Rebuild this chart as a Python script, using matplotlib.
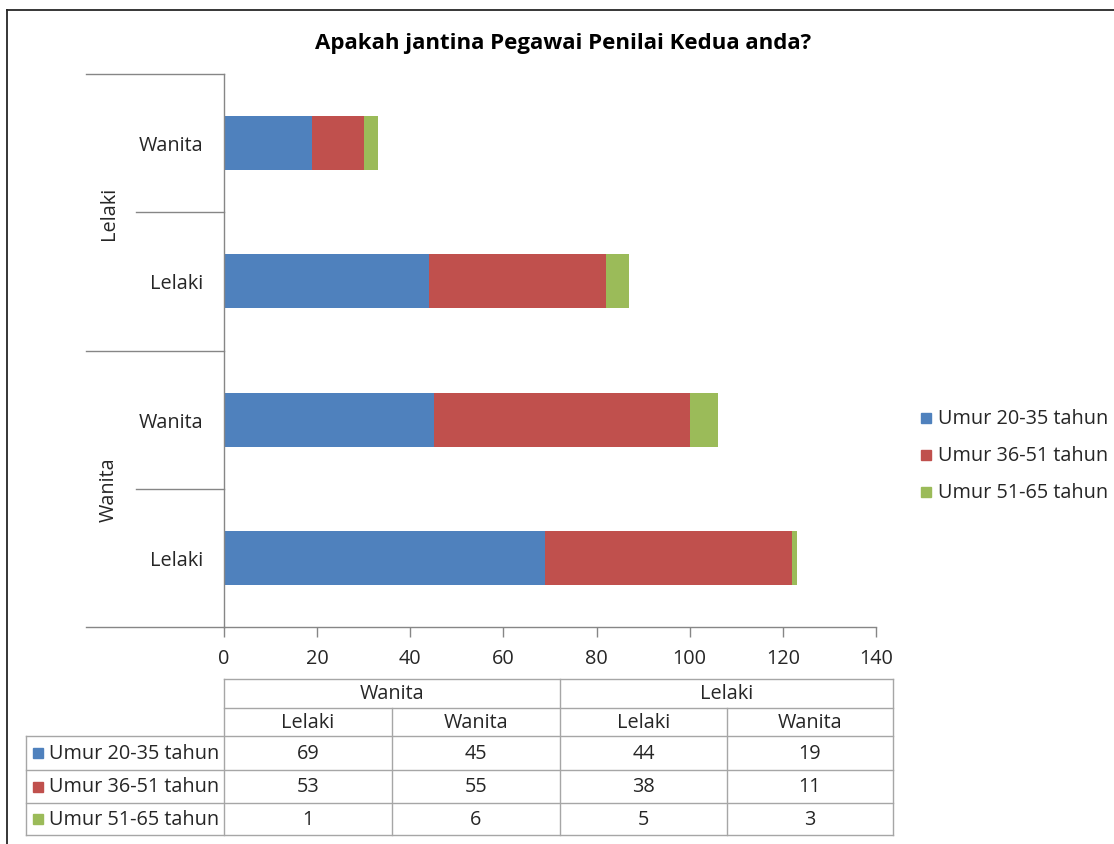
import matplotlib
matplotlib.use("Agg")
import matplotlib.pyplot as plt
from matplotlib.lines import Line2D
from matplotlib.patches import Rectangle

# ---- data ----
outer_groups = ["Wanita", "Lelaki"]
inner_labels = ["Lelaki", "Wanita", "Lelaki", "Wanita"]   # bottom-to-top order
series_names = ["Umur 20-35 tahun", "Umur 36-51 tahun", "Umur 51-65 tahun"]
umur_20_35 = [69, 45, 44, 19]
umur_36_51 = [53, 55, 38, 11]
umur_51_65 = [1, 6, 5, 3]
series_values = [umur_20_35, umur_36_51, umur_51_65]
colors = ["#4F81BD", "#C0504D", "#9BBB59"]
x_ticks = [0, 20, 40, 60, 80, 100, 120, 140]
title = "Apakah jantina Pegawai Penilai Kedua anda?"

plt.rcParams['font.family'] = ['Open Sans', 'DejaVu Sans']
W, H = 1114, 845
fig = plt.figure(figsize=(W / 100, H / 100), dpi=100)
FS = 14.3

def fx(x):
    return x / W

def fy(y):
    return 1 - y / H

AX_L, AX_R, AX_T, AX_B = 224, 876, 75, 628
ax = fig.add_axes([fx(AX_L), fy(AX_B), fx(AX_R) - fx(AX_L), fy(AX_T) - fy(AX_B)])
gray = "#868686"
text_c = "#262626"

n = len(inner_labels)
ypos = list(range(n))
left = [0] * n
for vals, c, name in zip(series_values, colors, series_names):
    ax.barh(ypos, vals, left=left, height=0.39, color=c, label=name, edgecolor='none')
    left = [l + v for l, v in zip(left, vals)]

ax.set_xlim(0, 140)
ax.set_ylim(-0.5, n - 0.5)
ax.set_xticks(x_ticks)
ax.set_xticklabels([str(t) for t in x_ticks], fontsize=FS, color=text_c)
ax.tick_params(axis='x', length=7, width=1, color=gray, direction='out', pad=8)
ax.set_yticks([])
for s in ['top', 'right']:
    ax.spines[s].set_visible(False)
ax.spines['left'].set_color(gray)
ax.spines['bottom'].set_color(gray)
ax.spines['left'].set_linewidth(1)
ax.spines['bottom'].set_linewidth(1)

# category axis labels
row_h = (AX_B - AX_T) / n
for i, lab in enumerate(inner_labels):
    yc = AX_B - (i + 0.5) * row_h
    fig.text(fx(203), fy(yc + 2), lab, ha='right', va='center', fontsize=FS, color=text_c)
for g, name in enumerate(outer_groups):
    yc = AX_B - (g + 1) * 2 * row_h + row_h
    fig.text(fx(109), fy(yc), name, ha='center', va='center', rotation=90,
             fontsize=FS, color=text_c)

def hline(x0, x1, y, color=gray, lw=1):
    fig.add_artist(Line2D([fx(x0), fx(x1)], [fy(y), fy(y)], color=color, lw=lw))

def vline(x, y0, y1, color=gray, lw=1):
    fig.add_artist(Line2D([fx(x), fx(x)], [fy(y0), fy(y1)], color=color, lw=lw))

for i in range(n + 1):
    y = AX_B - i * row_h
    x0 = 86 if i % 2 == 0 else 136
    hline(x0, AX_L, y)

# title
fig.text(fx(563), fy(43), title, ha='center', va='center', fontsize=16,
         fontweight='bold', color='black')

# legend
for k, (name, c) in enumerate(zip(series_names, colors)):
    y = 419 + k * 37
    fig.add_artist(Rectangle((fx(921), fy(y + 5)), fx(10), 10 / H, color=c))
    fig.text(fx(938), fy(y), name, ha='left', va='center', fontsize=FS, color=text_c)

# data table
col_x = [224, 392, 560, 727, 893]
row_y = [680, 709, 737, 771, 804, 836]
tcol = "#A6A6A6"
hline(col_x[0], col_x[-1], row_y[0], tcol)
hline(col_x[0], col_x[-1], row_y[1], tcol)
for r in range(2, len(row_y)):
    hline(26, col_x[-1], row_y[r], tcol)
vline(col_x[0], row_y[0], row_y[-1], tcol)
vline(col_x[2], row_y[0], row_y[-1], tcol)
vline(col_x[-1], row_y[0], row_y[-1], tcol)
vline(col_x[1], row_y[1], row_y[-1], tcol)
vline(col_x[3], row_y[1], row_y[-1], tcol)
vline(26, row_y[2], row_y[-1], tcol)

for g, name in enumerate(outer_groups):
    xc = (col_x[2 * g] + col_x[2 * g + 2]) / 2
    fig.text(fx(xc), fy((row_y[0] + row_y[1]) / 2), name, ha='center', va='center',
             fontsize=FS, color=text_c)
for j, lab in enumerate(inner_labels):
    xc = (col_x[j] + col_x[j + 1]) / 2
    fig.text(fx(xc), fy((row_y[1] + row_y[2]) / 2), lab, ha='center', va='center',
             fontsize=FS, color=text_c)
for r, (name, vals, c) in enumerate(zip(series_names, series_values, colors)):
    yc = (row_y[2 + r] + row_y[3 + r]) / 2
    fig.add_artist(Rectangle((fx(33), fy(yc + 5)), fx(10), 10 / H, color=c))
    fig.text(fx(49), fy(yc), name, ha='left', va='center', fontsize=FS, color=text_c)
    for j, v in enumerate(vals):
        xc = (col_x[j] + col_x[j + 1]) / 2
        fig.text(fx(xc), fy(yc), str(v), ha='center', va='center', fontsize=FS,
                 color=text_c)

# outer chart border (top and left edges visible)
hline(7, W, 11, "#262626", 1.3)
vline(7, 11, H, "#262626", 1.3)

fig.savefig("out.png", dpi=100, facecolor='white')
